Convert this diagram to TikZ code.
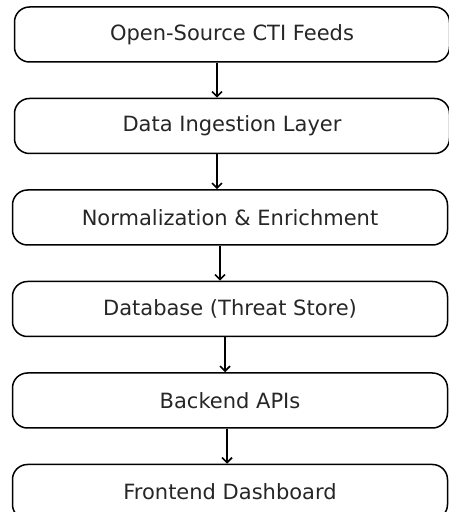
\documentclass[tikz,border=0pt]{standalone}
\usepackage{fontspec}
\setmainfont{DejaVu Sans}
\usetikzlibrary{positioning,arrows.meta}
\tikzset{
  >={Straight Barb[length=5pt,width=10pt]},
}
\tikzstyle{stage}=[draw,line width=1.5pt,rounded corners=15pt,minimum width=435pt,minimum height=55pt,inner sep=0pt,font=\fontsize{21}{23}\selectfont,text=black!85]
\tikzstyle{flow}=[line width=1.6pt,->]

\begin{document}
\begin{tikzpicture}[x=1pt,y=1pt]
    \useasboundingbox (0,0) rectangle (449,512);
    \node[stage] (feeds) at (232,477.5) {Open-Source CTI Feeds};
    \node[stage,below=35pt of feeds] (ingest) {Data Ingestion Layer};
    \node[stage,below=35pt of ingest,xshift=-2pt] (enrich) {Normalization \& Enrichment};
    \node[stage,below=35pt of enrich] (store) {Database (Threat Store)};
    \node[stage,below=35pt of store] (api) {Backend APIs};
    \node[stage,below=35pt of api] (dash) {Frontend Dashboard};
    \draw[flow] ([xshift=-15pt]feeds.south) -- ([xshift=-15pt]ingest.north);
    \draw[flow] ([xshift=-15pt]ingest.south) -- ([xshift=-13pt]enrich.north);
    \draw[flow] ([xshift=-10pt]enrich.south) -- ([xshift=-10pt]store.north);
    \draw[flow] ([xshift=-5pt]store.south) -- ([xshift=-5pt]api.north);
    \draw[flow] ([xshift=-3pt]api.south) -- ([xshift=-3pt]dash.north);
\end{tikzpicture}
\end{document}
